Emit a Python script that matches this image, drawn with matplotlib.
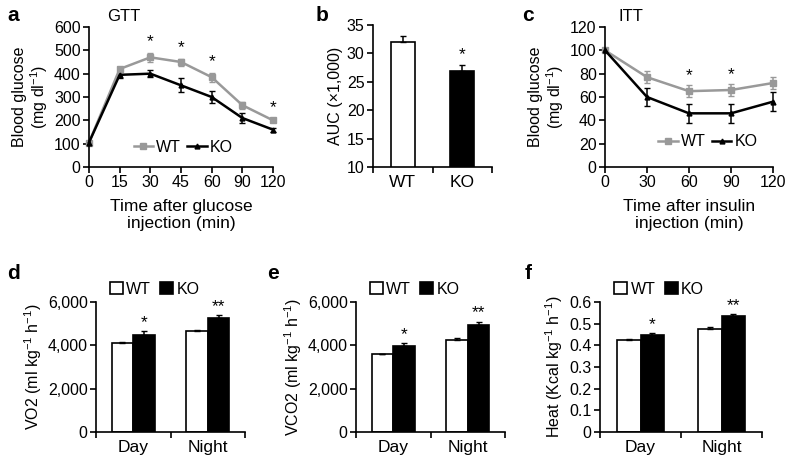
import matplotlib
matplotlib.use("Agg")
import matplotlib.pyplot as plt
from matplotlib.lines import Line2D
from matplotlib.patches import Patch
import numpy as np

plt.rcParams['font.family'] = ['Liberation Sans', 'DejaVu Sans']
plt.rcParams['mathtext.fontset'] = 'custom'
plt.rcParams['mathtext.rm'] = 'Liberation Sans'
plt.rcParams['mathtext.it'] = 'Liberation Sans:italic'
plt.rcParams['font.size'] = 11.5
plt.rcParams['axes.linewidth'] = 1.2

# GTT data
gtt_times = ['0', '15', '30', '45', '60', '90', '120']
gtt_wt = [105, 420, 470, 450, 385, 265, 200]
gtt_wt_err = [5, 10, 20, 15, 20, 15, 8]
gtt_ko = [105, 395, 400, 350, 300, 210, 160]
gtt_ko_err = [5, 15, 15, 30, 25, 20, 8]
gtt_stars = ['', '', '*', '*', '*', '', '*']

# AUC data
auc_groups = ['WT', 'KO']
auc_vals = [32.0, 26.9]
auc_err = [1.0, 1.0]

# ITT data
itt_times = [0, 30, 60, 90, 120]
itt_wt = [100, 77, 65, 66, 72]
itt_wt_err = [1, 5, 5, 5, 5]
itt_ko = [100, 60, 46, 46, 56]
itt_ko_err = [1, 8, 8, 8, 8]
itt_stars = ['', '', '*', '*', '']

# metabolic cage data
periods = ['Day', 'Night']
vo2_wt = [4100, 4650]
vo2_wt_err = [40, 60]
vo2_ko = [4500, 5280]
vo2_ko_err = [150, 120]
vco2_wt = [3580, 4250]
vco2_wt_err = [30, 100]
vco2_ko = [3950, 4950]
vco2_ko_err = [150, 150]
heat_wt = [0.425, 0.477]
heat_wt_err = [0.004, 0.006]
heat_ko = [0.447, 0.537]
heat_ko_err = [0.010, 0.006]
bar_stars = ['*', '**']

W, H = 788, 457
fig = plt.figure(figsize=(W / 100, H / 100), dpi=100)


def add_ax(l, r, t, b):
    return fig.add_axes([l / W, 1 - b / H, (r - l) / W, (b - t) / H])


def style(ax):
    ax.spines['top'].set_visible(False)
    ax.spines['right'].set_visible(False)
    ax.tick_params(direction='out', length=4, width=1.2, pad=2)


grey = '#999999'
line_handles = [Line2D([], [], color=grey, marker='s', ms=4, lw=1.8),
                Line2D([], [], color='black', marker='^', ms=3.5, lw=1.8)]

# panel a
ax = add_ax(89, 273, 27, 167)
style(ax)
x = np.arange(len(gtt_times))
ax.errorbar(x, gtt_wt, yerr=gtt_wt_err, color=grey, marker='s', ms=4, lw=1.8,
            capsize=2, elinewidth=1.1, clip_on=False)
ax.errorbar(x, gtt_ko, yerr=gtt_ko_err, color='black', marker='^', ms=3.5, lw=1.8,
            capsize=2, elinewidth=1.1, clip_on=False)
for i, s in enumerate(gtt_stars):
    if s:
        ax.text(x[i], gtt_wt[i] + gtt_wt_err[i] + 15, s, ha='center', va='bottom', fontsize=12.5)
ax.set_xlim(0, 6)
ax.set_ylim(0, 600)
ax.set_xticks(x)
ax.set_xticklabels(gtt_times)
ax.set_yticks(range(0, 601, 100))
ax.set_ylabel('Blood glucose\n(mg dl$^{-1}$)', labelpad=3, linespacing=1.05)
ax.set_xlabel('Time after glucose\ninjection (min)', labelpad=6, fontsize=12.5)
ax.legend(line_handles, ['WT', 'KO'], loc='center left', bbox_to_anchor=(0.2, 0.14), ncol=2,
          frameon=False, handlelength=1.2, handletextpad=0.2, columnspacing=0.4, borderpad=0)
ax.text(0.1, 1.04, 'GTT', transform=ax.transAxes, fontsize=12)
fig.text(7 / W, 1 - 21 / H, 'a', fontsize=15, fontweight='bold')

# panel b
ax = add_ax(373, 492, 25, 167)
style(ax)
ax.bar([0, 1], auc_vals, width=0.4, color=['white', 'black'], edgecolor='black', lw=1.2)
ax.errorbar([0, 1], auc_vals, yerr=[[0, 0], auc_err], fmt='none', ecolor='black',
            capsize=2, elinewidth=1.1)
ax.text(1, auc_vals[1] + auc_err[1] + 0.6, '*', ha='center', va='bottom', fontsize=12.5)
ax.set_xlim(-0.5, 1.5)
ax.set_ylim(10, 35)
ax.set_yticks(range(10, 36, 5))
ax.set_xticks([-0.5, 0.5, 1.5])
ax.set_xticklabels([])
ax.set_xticks([0, 1], minor=True)
ax.set_xticklabels(auc_groups, minor=True, fontsize=12.5)
ax.tick_params(axis='x', which='minor', length=0, pad=6)
ax.set_ylabel('AUC (×1,000)', labelpad=3)
fig.text(316 / W, 1 - 21 / H, 'b', fontsize=15, fontweight='bold')

# panel c
ax = add_ax(605, 773, 27, 167)
style(ax)
ax.errorbar(itt_times, itt_wt, yerr=itt_wt_err, color=grey, marker='s', ms=4, lw=1.8,
            capsize=2, elinewidth=1.1, clip_on=False)
ax.errorbar(itt_times, itt_ko, yerr=itt_ko_err, color='black', marker='^', ms=3.5, lw=1.8,
            capsize=2, elinewidth=1.1, clip_on=False)
for i, s in enumerate(itt_stars):
    if s:
        ax.text(itt_times[i], itt_wt[i] + itt_wt_err[i] + 2, s, ha='center', va='bottom', fontsize=12.5)
ax.set_xlim(0, 120)
ax.set_ylim(0, 120)
ax.set_xticks(itt_times)
ax.set_yticks(range(0, 121, 20))
ax.set_ylabel('Blood glucose\n(mg dl$^{-1}$)', labelpad=3, linespacing=1.05)
ax.set_xlabel('Time after insulin\ninjection (min)', labelpad=6, fontsize=12.5)
ax.legend(line_handles, ['WT', 'KO'], loc='center left', bbox_to_anchor=(0.27, 0.18), ncol=2,
          frameon=False, handlelength=1.2, handletextpad=0.2, columnspacing=0.4, borderpad=0)
ax.text(0.08, 1.04, 'ITT', transform=ax.transAxes, fontsize=12)
fig.text(522 / W, 1 - 21 / H, 'c', fontsize=15, fontweight='bold')


def bar_panel(l, r, wt, wt_err, ko, ko_err, ylim, yticks, yticklabels, ylabel, letter, lx, star_off):
    ax = add_ax(l, r, 302, 432)
    style(ax)
    xs = np.arange(len(periods))
    w = 0.29
    ax.bar(xs - w / 2, wt, width=w, color='white', edgecolor='black', lw=1.2)
    ax.bar(xs + w / 2, ko, width=w, color='black', edgecolor='black', lw=1.2)
    ax.errorbar(xs - w / 2, wt, yerr=[[0, 0], wt_err], fmt='none', ecolor='black', capsize=2, elinewidth=1.1)
    ax.errorbar(xs + w / 2, ko, yerr=[[0, 0], ko_err], fmt='none', ecolor='black', capsize=2, elinewidth=1.1)
    for i, s in enumerate(bar_stars):
        ax.text(xs[i] + w / 2, ko[i] + ko_err[i] + star_off, s, ha='center', va='bottom', fontsize=12.5)
    ax.set_xlim(-0.5, 1.5)
    ax.set_ylim(*ylim)
    ax.set_yticks(yticks)
    ax.set_yticklabels(yticklabels)
    ax.set_xticks([-0.5, 0.5, 1.5])
    ax.set_xticklabels([])
    ax.set_xticks(xs, minor=True)
    ax.set_xticklabels(periods, minor=True, fontsize=12.5)
    ax.tick_params(axis='x', which='minor', length=0, pad=6)
    ax.set_ylabel(ylabel, labelpad=3)
    handles = [Patch(facecolor='white', edgecolor='black', lw=1.2),
               Patch(facecolor='black', edgecolor='black', lw=1.2)]
    ax.legend(handles, ['WT', 'KO'], loc='lower left', bbox_to_anchor=(0.04, 0.98), ncol=2,
              frameon=False, handlelength=0.8, handleheight=0.8, handletextpad=0.2,
              columnspacing=0.6, borderpad=0)
    fig.text(lx / W, 1 - 279 / H, letter, fontsize=15, fontweight='bold')


bar_panel(96, 245, vo2_wt, vo2_wt_err, vo2_ko, vo2_ko_err, (0, 6000),
          [0, 2000, 4000, 6000], ['0', '2,000', '4,000', '6,000'],
          'VO2 (ml kg$^{-1}$ h$^{-1}$)', 'd', 7, 60)
bar_panel(356, 505, vco2_wt, vco2_wt_err, vco2_ko, vco2_ko_err, (0, 6000),
          [0, 2000, 4000, 6000], ['0', '2,000', '4,000', '6,000'],
          'VCO2 (ml kg$^{-1}$ h$^{-1}$)', 'e', 267, 60)
bar_panel(600, 762, heat_wt, heat_wt_err, heat_ko, heat_ko_err, (0, 0.6),
          np.round(np.arange(0, 0.61, 0.1), 1), ['0', '0.1', '0.2', '0.3', '0.4', '0.5', '0.6'],
          'Heat (Kcal kg$^{-1}$ h$^{-1}$)', 'f', 525, 0.006)

fig.savefig('out.png', dpi=100)
